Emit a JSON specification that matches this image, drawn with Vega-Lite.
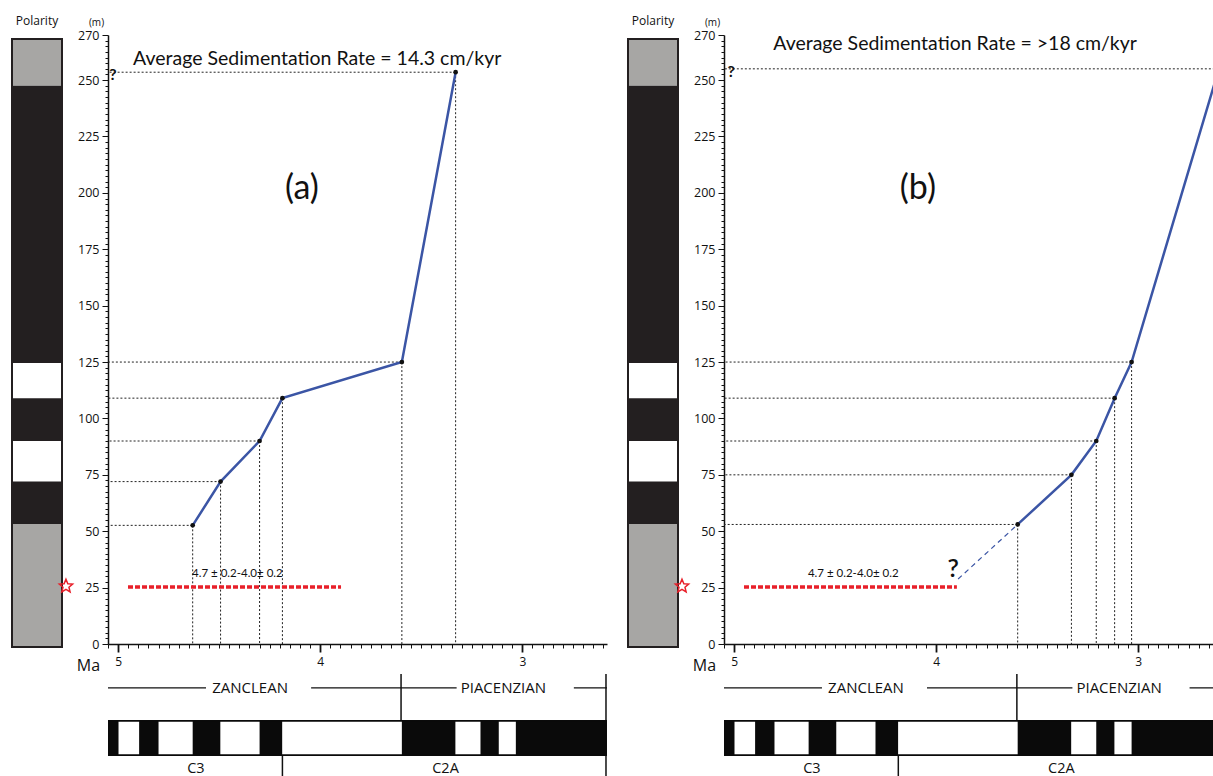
{
  "$schema": "https://vega.github.io/schema/vega-lite/v6.json",
  "background": "white",
  "padding": {"left": 11, "top": 15, "right": 0, "bottom": 0},
  "config": {
    "view": {"stroke": null},
    "font": "Open Sans",
    "axis": {"domainColor": "#111", "tickColor": "#111", "labelColor": "#111", "titleColor": "#111", "grid": false, "labelFont": "Open Sans", "titleFont": "Open Sans"}
  },
  "datasets": {
    "polcol": [
      {"top": 268.2, "bottom": 247.5, "pol": "unknown"},
      {"top": 247.5, "bottom": 124.6, "pol": "normal"},
      {"top": 124.6, "bottom": 109, "pol": "reversed"},
      {"top": 109, "bottom": 90, "pol": "normal"},
      {"top": 90, "bottom": 72, "pol": "reversed"},
      {"top": 72, "bottom": 53.2, "pol": "normal"},
      {"top": 53.2, "bottom": -1.3, "pol": "unknown"}
    ],
    "tie_a": [
      {"age": 4.631, "depth": 52.6},
      {"age": 4.493, "depth": 72},
      {"age": 4.300, "depth": 90},
      {"age": 4.187, "depth": 109},
      {"age": 3.596, "depth": 125},
      {"age": 3.330, "depth": 253.5}
    ],
    "tie_b": [
      {"age": 3.596, "depth": 53},
      {"age": 3.330, "depth": 75},
      {"age": 3.207, "depth": 90},
      {"age": 3.116, "depth": 109},
      {"age": 3.032, "depth": 125},
      {"age": 2.600, "depth": 255}
    ],
    "extrap_b": [
      {"age": 3.891, "depth": 28.8},
      {"age": 3.596, "depth": 53}
    ],
    "range": [{"age": 4.951, "age2": 3.897, "depth": 25.3}],
    "range_label": [{"age": 4.41, "depth": 31.2, "label": "4.7 ± 0.2-4.0± 0.2"}],
    "star": [{"age": 5.258, "depth": 25.6}],
    "gpts": [
      {"start": 5.235, "end": 4.997, "pol": "normal"},
      {"start": 4.997, "end": 4.896, "pol": "reversed"},
      {"start": 4.896, "end": 4.799, "pol": "normal"},
      {"start": 4.799, "end": 4.631, "pol": "reversed"},
      {"start": 4.631, "end": 4.493, "pol": "normal"},
      {"start": 4.493, "end": 4.300, "pol": "reversed"},
      {"start": 4.300, "end": 4.187, "pol": "normal"},
      {"start": 4.187, "end": 3.596, "pol": "reversed"},
      {"start": 3.596, "end": 3.330, "pol": "normal"},
      {"start": 3.330, "end": 3.207, "pol": "reversed"},
      {"start": 3.207, "end": 3.116, "pol": "normal"},
      {"start": 3.116, "end": 3.032, "pol": "reversed"},
      {"start": 3.032, "end": 2.581, "pol": "normal"}
    ],
    "stage_lines": [
      {"from": 5.075, "to": 4.565},
      {"from": 4.045, "to": 3.600},
      {"from": 3.600, "to": 3.325},
      {"from": 2.745, "to": 2.560}
    ],
    "stages": [
      {"name": "ZANCLEAN", "labelAge": 4.347},
      {"name": "PIACENZIAN", "labelAge": 3.094}
    ],
    "stage_bounds": [{"age": 3.600}, {"age": 2.586}],
    "chrons": [
      {"name": "C3", "labelAge": 4.615},
      {"name": "C2A", "labelAge": 3.38}
    ],
    "chron_bounds": [{"age": 4.187}, {"age": 2.586}]
  },
  "hconcat": [
    {
      "hconcat": [
        {
          "width": 50,
          "height": 609,
          "title": {"text": "Polarity", "fontSize": 12, "fontWeight": "normal", "font": "Open Sans", "offset": 7, "anchor": "middle", "color": "#111"},
          "data": {"name": "polcol"},
          "layer": [
            {
              "mark": {"type": "rect"},
              "encoding": {
                "y": {"field": "top", "type": "quantitative", "scale": {"domain": [0, 270], "nice": false, "zero": false}, "axis": null},
                "y2": {"field": "bottom"},
                "fill": {"field": "pol", "type": "nominal", "scale": {"domain": ["normal", "reversed", "unknown"], "range": ["#231f20", "#ffffff", "#a7a6a4"]}, "legend": null}
              }
            },
            {
              "mark": {"type": "rect", "fill": "#ffffff", "fillOpacity": 0, "stroke": "#231f20", "strokeWidth": 2},
              "encoding": {
                "y": {"aggregate": "max", "field": "top", "type": "quantitative"},
                "y2": {"aggregate": "min", "field": "bottom"}
              }
            }
          ]
        },
        {
          "vconcat": [
            {
              "width": 499,
              "height": 609,
              "encoding": {
                "x": {"field": "age", "type": "quantitative", "scale": {"domain": [2.581, 5.05], "reverse": true, "nice": false, "zero": false},
                  "axis": {"values": [5.05,5,4.95,4.9,4.85,4.8,4.75,4.7,4.65,4.6,4.55,4.5,4.45,4.4,4.35,4.3,4.25,4.2,4.15,4.1,4.05,4,3.95,3.9,3.85,3.8,3.75,3.7,3.65,3.6,3.55,3.5,3.45,3.4,3.35,3.3,3.25,3.2,3.15,3.1,3.05,3,2.95,2.9,2.85,2.8,2.75,2.7,2.65,2.6],
                    "labelExpr": "(datum.value === 5 || datum.value === 4 || datum.value === 3) ? format(datum.value, 'd') : ''",
                    "tickSize": {"condition": {"test": "datum.value === 5 || datum.value === 4 || datum.value === 3", "value": 8}, "value": 4},
                    "tickWidth": {"condition": {"test": "datum.value === 5 || datum.value === 4 || datum.value === 3", "value": 1.8}, "value": 1},
                    "labelPadding": 4, "labelFontSize": 12, "labelOverlap": false, "labelFlush": false, "labelBound": false,
                    "domainWidth": 1.5,
                    "title": "Ma", "titleX": -20, "titleY": 26, "titleAlign": "center", "titleBaseline": "alphabetic", "titleFontSize": 16, "titleFontWeight": "normal", "titleAngle": 0}},
                "y": {"field": "depth", "type": "quantitative", "scale": {"domain": [0, 270], "nice": false, "zero": false},
                  "axis": {"values": [0,2.5,5,7.5,10,12.5,15,17.5,20,22.5,25,27.5,30,32.5,35,37.5,40,42.5,45,47.5,50,52.5,55,57.5,60,62.5,65,67.5,70,72.5,75,77.5,80,82.5,85,87.5,90,92.5,95,97.5,100,102.5,105,107.5,110,112.5,115,117.5,120,122.5,125,127.5,130,132.5,135,137.5,140,142.5,145,147.5,150,152.5,155,157.5,160,162.5,165,167.5,170,172.5,175,177.5,180,182.5,185,187.5,190,192.5,195,197.5,200,202.5,205,207.5,210,212.5,215,217.5,220,222.5,225,227.5,230,232.5,235,237.5,240,242.5,245,247.5,250,252.5,255,257.5,260,262.5,265,267.5,270],
                    "labelExpr": "(datum.value % 25 === 0 || datum.value === 270) ? format(datum.value, 'd') : ''",
                    "tickSize": {"condition": {"test": "datum.value % 25 === 0 || datum.value === 270", "value": 6}, "value": 3},
                    "labelPadding": 3, "labelFontSize": 12.5, "labelOverlap": false, "labelFlush": false, "labelBound": false,
                    "domainWidth": 1.5,
                    "title": "(m)", "titleAngle": 0, "titleX": -12, "titleY": -10, "titleAlign": "center", "titleBaseline": "alphabetic", "titleFontSize": 10, "titleFontWeight": "normal"}}
              },
              "layer": [
                {
                  "data": {"name": "tie_a"},
                  "mark": {"type": "rule", "color": "#222", "strokeDash": [2, 2], "strokeWidth": 1, "clip": true},
                  "encoding": {"x2": {"datum": 5.05}}
                },
                {
                  "data": {"name": "tie_a"},
                  "mark": {"type": "rule", "color": "#222", "strokeDash": [2, 2], "strokeWidth": 1, "clip": true},
                  "encoding": {"y2": {"datum": 0}}
                },
                {
                  "data": {"name": "range"},
                  "mark": {"type": "rule", "color": "#e8202a", "strokeDash": [5, 2], "strokeWidth": 3.5},
                  "encoding": {"x2": {"field": "age2"}}
                },
                {
                  "data": {"name": "range_label"},
                  "mark": {"type": "text", "font": "Lato", "fontSize": 11.5, "color": "#111", "baseline": "middle", "align": "center"},
                  "encoding": {"text": {"field": "label"}}
                },
                {
                  "data": {"name": "tie_a"},
                  "mark": {"type": "line", "color": "#3b55a5", "strokeWidth": 2.5, "clip": true},
                  "encoding": {}
                },
                {
                  "data": {"name": "tie_a"},
                  "mark": {"type": "circle", "color": "#111", "size": 22, "opacity": 1, "clip": true},
                  "encoding": {}
                },
                {
                  "data": {"name": "star"},
                  "mark": {"type": "point", "shape": "M0,-1L0.265,-0.364L0.951,-0.309L0.428,0.139L0.588,0.809L0,0.45L-0.588,0.809L-0.428,0.139L-0.951,-0.309L-0.265,-0.364Z", "filled": false, "color": "#e8202a", "strokeWidth": 1.5, "size": 196, "opacity": 1},
                  "encoding": {}
                },
                {
                  "data": {"values": [{"age": 4.015, "depth": 259.4, "label": "Average Sedimentation Rate =  14.3 cm/kyr"}]},
                  "mark": {"type": "text", "font": "Lato", "fontSize": 19.5, "color": "#111", "baseline": "middle", "align": "center"},
                  "encoding": {"text": {"field": "label"}}
                },
                {
                  "data": {"values": [{"age": 4.09, "depth": 201.7, "label": "(a)"}]},
                  "mark": {"type": "text", "font": "Lato", "fontSize": 34, "color": "#111", "baseline": "middle", "align": "center"},
                  "encoding": {"text": {"field": "label"}}
                },
                {
                  "data": {"values": [{"age": 5.025, "depth": 252.3, "label": "?"}]},
                  "mark": {"type": "text", "font": "Lato", "fontSize": 16, "fontWeight": "bold", "color": "#111", "baseline": "middle", "align": "center"},
                  "encoding": {"text": {"field": "label"}}
                }
              ]
            },
            {
              "vconcat": [
                {
                  "width": 499,
                  "height": 46,
                  "layer": [
                    {
                      "data": {"name": "stage_lines"},
                      "mark": {"type": "rule", "color": "#111", "strokeWidth": 1.3, "clip": true},
                      "encoding": {
                        "x": {"field": "from", "type": "quantitative", "scale": {"domain": [2.581, 5.05], "reverse": true, "nice": false, "zero": false}, "axis": null},
                        "x2": {"field": "to"},
                        "y": {"datum": 0.7, "type": "quantitative", "scale": {"domain": [0, 1], "nice": false, "zero": false}, "axis": null}
                      }
                    },
                    {
                      "data": {"name": "stage_bounds"},
                      "mark": {"type": "rule", "color": "#111", "strokeWidth": 1.5, "clip": true},
                      "encoding": {
                        "x": {"field": "age", "type": "quantitative"}
                      }
                    },
                    {
                      "data": {"name": "stages"},
                      "mark": {"type": "text", "font": "Open Sans", "fontSize": 15, "color": "#111", "baseline": "middle", "align": "center", "clip": true},
                      "encoding": {
                        "x": {"field": "labelAge", "type": "quantitative"},
                        "y": {"datum": 0.7, "type": "quantitative"},
                        "text": {"field": "name"}
                      }
                    }
                  ]
                },
                {
                  "width": 499,
                  "height": 36,
                  "data": {"name": "gpts"},
                  "layer": [
                    {
                      "mark": {"type": "rect", "clip": true},
                      "encoding": {
                        "x": {"field": "start", "type": "quantitative", "scale": {"domain": [2.581, 5.05], "reverse": true, "nice": false, "zero": false}, "axis": null},
                        "x2": {"field": "end"},
                        "fill": {"field": "pol", "type": "nominal", "scale": {"domain": ["normal", "reversed", "unknown"], "range": ["#0a0a0a", "#ffffff", "#a7a6a4"]}, "legend": null}
                      }
                    },
                    {
                      "mark": {"type": "rect", "fill": "#ffffff", "fillOpacity": 0, "stroke": "#0a0a0a", "strokeWidth": 3.5, "clip": true},
                      "encoding": {
                        "x": {"aggregate": "max", "field": "start", "type": "quantitative"},
                        "x2": {"aggregate": "min", "field": "end"}
                      }
                    }
                  ]
                },
                {
                  "width": 499,
                  "height": 22,
                  "layer": [
                    {
                      "data": {"name": "chron_bounds"},
                      "mark": {"type": "rule", "color": "#111", "strokeWidth": 1.5, "clip": true},
                      "encoding": {
                        "x": {"field": "age", "type": "quantitative", "scale": {"domain": [2.581, 5.05], "reverse": true, "nice": false, "zero": false}, "axis": null}
                      }
                    },
                    {
                      "data": {"name": "chrons"},
                      "mark": {"type": "text", "font": "Open Sans", "fontSize": 14.5, "color": "#111", "baseline": "middle", "align": "center", "dy": 2},
                      "encoding": {
                        "x": {"field": "labelAge", "type": "quantitative"},
                        "text": {"field": "name"}
                      }
                    }
                  ]
                }
              ],
              "spacing": 0,
              "bounds": "flush",
              "resolve": {"scale": {"x": "independent", "y": "independent", "fill": "independent"}}
            }
          ],
          "spacing": 30,
          "bounds": "flush",
          "resolve": {"scale": {"x": "independent", "y": "independent", "fill": "independent"}}
        }
      ],
      "spacing": 46,
      "bounds": "flush",
      "resolve": {"scale": {"x": "independent", "y": "independent", "fill": "independent"}}
    },
    {
      "hconcat": [
        {
          "width": 50,
          "height": 609,
          "title": {"text": "Polarity", "fontSize": 12, "fontWeight": "normal", "font": "Open Sans", "offset": 7, "anchor": "middle", "color": "#111"},
          "data": {"name": "polcol"},
          "layer": [
            {
              "mark": {"type": "rect"},
              "encoding": {
                "y": {"field": "top", "type": "quantitative", "scale": {"domain": [0, 270], "nice": false, "zero": false}, "axis": null},
                "y2": {"field": "bottom"},
                "fill": {"field": "pol", "type": "nominal", "scale": {"domain": ["normal", "reversed", "unknown"], "range": ["#231f20", "#ffffff", "#a7a6a4"]}, "legend": null}
              }
            },
            {
              "mark": {"type": "rect", "fill": "#ffffff", "fillOpacity": 0, "stroke": "#231f20", "strokeWidth": 2},
              "encoding": {
                "y": {"aggregate": "max", "field": "top", "type": "quantitative"},
                "y2": {"aggregate": "min", "field": "bottom"}
              }
            }
          ]
        },
        {
          "vconcat": [
            {
              "width": 489,
              "height": 609,
              "encoding": {
                "x": {"field": "age", "type": "quantitative", "scale": {"domain": [2.629, 5.05], "reverse": true, "nice": false, "zero": false},
                  "axis": {"values": [5.05,5,4.95,4.9,4.85,4.8,4.75,4.7,4.65,4.6,4.55,4.5,4.45,4.4,4.35,4.3,4.25,4.2,4.15,4.1,4.05,4,3.95,3.9,3.85,3.8,3.75,3.7,3.65,3.6,3.55,3.5,3.45,3.4,3.35,3.3,3.25,3.2,3.15,3.1,3.05,3,2.95,2.9,2.85,2.8,2.75,2.7,2.65],
                    "labelExpr": "(datum.value === 5 || datum.value === 4 || datum.value === 3) ? format(datum.value, 'd') : ''",
                    "tickSize": {"condition": {"test": "datum.value === 5 || datum.value === 4 || datum.value === 3", "value": 8}, "value": 4},
                    "tickWidth": {"condition": {"test": "datum.value === 5 || datum.value === 4 || datum.value === 3", "value": 1.8}, "value": 1},
                    "labelPadding": 4, "labelFontSize": 12, "labelOverlap": false, "labelFlush": false, "labelBound": false,
                    "domainWidth": 1.5,
                    "title": "Ma", "titleX": -20, "titleY": 26, "titleAlign": "center", "titleBaseline": "alphabetic", "titleFontSize": 16, "titleFontWeight": "normal", "titleAngle": 0}},
                "y": {"field": "depth", "type": "quantitative", "scale": {"domain": [0, 270], "nice": false, "zero": false},
                  "axis": {"values": [0,2.5,5,7.5,10,12.5,15,17.5,20,22.5,25,27.5,30,32.5,35,37.5,40,42.5,45,47.5,50,52.5,55,57.5,60,62.5,65,67.5,70,72.5,75,77.5,80,82.5,85,87.5,90,92.5,95,97.5,100,102.5,105,107.5,110,112.5,115,117.5,120,122.5,125,127.5,130,132.5,135,137.5,140,142.5,145,147.5,150,152.5,155,157.5,160,162.5,165,167.5,170,172.5,175,177.5,180,182.5,185,187.5,190,192.5,195,197.5,200,202.5,205,207.5,210,212.5,215,217.5,220,222.5,225,227.5,230,232.5,235,237.5,240,242.5,245,247.5,250,252.5,255,257.5,260,262.5,265,267.5,270],
                    "labelExpr": "(datum.value % 25 === 0 || datum.value === 270) ? format(datum.value, 'd') : ''",
                    "tickSize": {"condition": {"test": "datum.value % 25 === 0 || datum.value === 270", "value": 6}, "value": 3},
                    "labelPadding": 3, "labelFontSize": 12.5, "labelOverlap": false, "labelFlush": false, "labelBound": false,
                    "domainWidth": 1.5,
                    "title": "(m)", "titleAngle": 0, "titleX": -12, "titleY": -10, "titleAlign": "center", "titleBaseline": "alphabetic", "titleFontSize": 10, "titleFontWeight": "normal"}}
              },
              "layer": [
                {
                  "data": {"name": "tie_b"},
                  "mark": {"type": "rule", "color": "#222", "strokeDash": [2, 2], "strokeWidth": 1, "clip": true},
                  "encoding": {"x2": {"datum": 5.05}}
                },
                {
                  "data": {"name": "tie_b"},
                  "mark": {"type": "rule", "color": "#222", "strokeDash": [2, 2], "strokeWidth": 1, "clip": true},
                  "encoding": {"y2": {"datum": 0}}
                },
                {
                  "data": {"name": "range"},
                  "mark": {"type": "rule", "color": "#e8202a", "strokeDash": [5, 2], "strokeWidth": 3.5},
                  "encoding": {"x2": {"field": "age2"}}
                },
                {
                  "data": {"name": "range_label"},
                  "mark": {"type": "text", "font": "Lato", "fontSize": 11.5, "color": "#111", "baseline": "middle", "align": "center"},
                  "encoding": {"text": {"field": "label"}}
                },
                {
                  "data": {"name": "extrap_b"},
                  "mark": {"type": "line", "color": "#3b55a5", "strokeWidth": 1.2, "strokeDash": [5, 4], "clip": true},
                  "encoding": {}
                },
                {
                  "data": {"name": "tie_b"},
                  "mark": {"type": "line", "color": "#3b55a5", "strokeWidth": 2.5, "clip": true},
                  "encoding": {}
                },
                {
                  "data": {"name": "tie_b"},
                  "mark": {"type": "circle", "color": "#111", "size": 22, "opacity": 1, "clip": true},
                  "encoding": {}
                },
                {
                  "data": {"name": "star"},
                  "mark": {"type": "point", "shape": "M0,-1L0.265,-0.364L0.951,-0.309L0.428,0.139L0.588,0.809L0,0.45L-0.588,0.809L-0.428,0.139L-0.951,-0.309L-0.265,-0.364Z", "filled": false, "color": "#e8202a", "strokeWidth": 1.5, "size": 196, "opacity": 1},
                  "encoding": {}
                },
                {
                  "data": {"values": [{"age": 3.906, "depth": 266, "label": "Average Sedimentation Rate =  >18 cm/kyr"}]},
                  "mark": {"type": "text", "font": "Lato", "fontSize": 19.5, "color": "#111", "baseline": "middle", "align": "center"},
                  "encoding": {"text": {"field": "label"}}
                },
                {
                  "data": {"values": [{"age": 4.09, "depth": 201.7, "label": "(b)"}]},
                  "mark": {"type": "text", "font": "Lato", "fontSize": 34, "color": "#111", "baseline": "middle", "align": "center"},
                  "encoding": {"text": {"field": "label"}}
                },
                {
                  "data": {"values": [{"age": 5.015, "depth": 253.6, "label": "?"}]},
                  "mark": {"type": "text", "font": "Lato", "fontSize": 16, "fontWeight": "bold", "color": "#111", "baseline": "middle", "align": "center"},
                  "encoding": {"text": {"field": "label"}}
                },
                {
                  "data": {"values": [{"age": 3.916, "depth": 33.2, "label": "?"}]},
                  "mark": {"type": "text", "font": "Lato", "fontSize": 25, "fontWeight": 600, "color": "#111", "baseline": "middle", "align": "center"},
                  "encoding": {"text": {"field": "label"}}
                }
              ]
            },
            {
              "vconcat": [
                {
                  "width": 489,
                  "height": 46,
                  "layer": [
                    {
                      "data": {"name": "stage_lines"},
                      "mark": {"type": "rule", "color": "#111", "strokeWidth": 1.3, "clip": true},
                      "encoding": {
                        "x": {"field": "from", "type": "quantitative", "scale": {"domain": [2.629, 5.05], "reverse": true, "nice": false, "zero": false}, "axis": null},
                        "x2": {"field": "to"},
                        "y": {"datum": 0.7, "type": "quantitative", "scale": {"domain": [0, 1], "nice": false, "zero": false}, "axis": null}
                      }
                    },
                    {
                      "data": {"name": "stage_bounds"},
                      "mark": {"type": "rule", "color": "#111", "strokeWidth": 1.5, "clip": true},
                      "encoding": {
                        "x": {"field": "age", "type": "quantitative"}
                      }
                    },
                    {
                      "data": {"name": "stages"},
                      "mark": {"type": "text", "font": "Open Sans", "fontSize": 15, "color": "#111", "baseline": "middle", "align": "center", "clip": true},
                      "encoding": {
                        "x": {"field": "labelAge", "type": "quantitative"},
                        "y": {"datum": 0.7, "type": "quantitative"},
                        "text": {"field": "name"}
                      }
                    }
                  ]
                },
                {
                  "width": 489,
                  "height": 36,
                  "data": {"name": "gpts"},
                  "layer": [
                    {
                      "mark": {"type": "rect", "clip": true},
                      "encoding": {
                        "x": {"field": "start", "type": "quantitative", "scale": {"domain": [2.629, 5.05], "reverse": true, "nice": false, "zero": false}, "axis": null},
                        "x2": {"field": "end"},
                        "fill": {"field": "pol", "type": "nominal", "scale": {"domain": ["normal", "reversed", "unknown"], "range": ["#0a0a0a", "#ffffff", "#a7a6a4"]}, "legend": null}
                      }
                    },
                    {
                      "mark": {"type": "rect", "fill": "#ffffff", "fillOpacity": 0, "stroke": "#0a0a0a", "strokeWidth": 3.5, "clip": true},
                      "encoding": {
                        "x": {"aggregate": "max", "field": "start", "type": "quantitative"},
                        "x2": {"aggregate": "min", "field": "end"}
                      }
                    }
                  ]
                },
                {
                  "width": 489,
                  "height": 22,
                  "layer": [
                    {
                      "data": {"name": "chron_bounds"},
                      "mark": {"type": "rule", "color": "#111", "strokeWidth": 1.5, "clip": true},
                      "encoding": {
                        "x": {"field": "age", "type": "quantitative", "scale": {"domain": [2.629, 5.05], "reverse": true, "nice": false, "zero": false}, "axis": null}
                      }
                    },
                    {
                      "data": {"name": "chrons"},
                      "mark": {"type": "text", "font": "Open Sans", "fontSize": 14.5, "color": "#111", "baseline": "middle", "align": "center", "dy": 2},
                      "encoding": {
                        "x": {"field": "labelAge", "type": "quantitative"},
                        "text": {"field": "name"}
                      }
                    }
                  ]
                }
              ],
              "spacing": 0,
              "bounds": "flush",
              "resolve": {"scale": {"x": "independent", "y": "independent", "fill": "independent"}}
            }
          ],
          "spacing": 30,
          "bounds": "flush",
          "resolve": {"scale": {"x": "independent", "y": "independent", "fill": "independent"}}
        }
      ],
      "spacing": 46,
      "bounds": "flush",
      "resolve": {"scale": {"x": "independent", "y": "independent", "fill": "independent"}}
    }
  ],
  "spacing": 20,
  "resolve": {"scale": {"x": "independent", "y": "independent", "fill": "independent"}}
}
